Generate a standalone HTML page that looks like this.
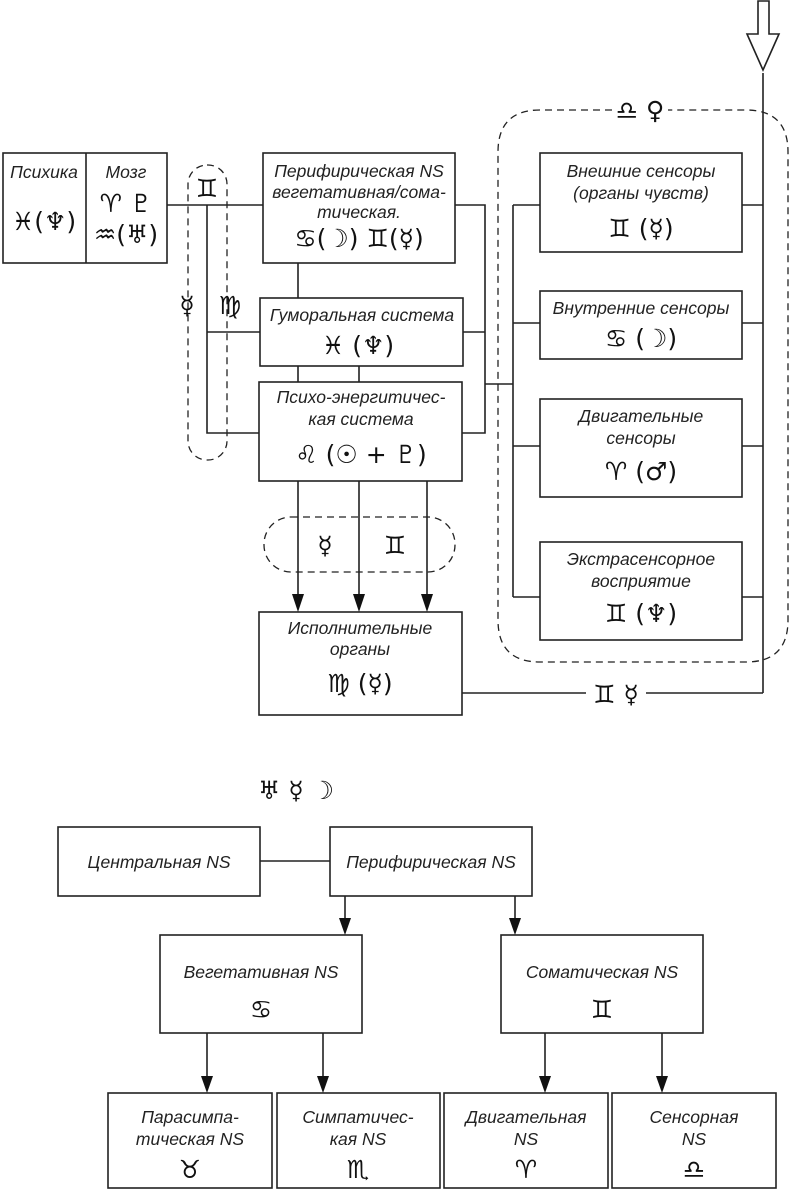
<!DOCTYPE html>
<html><head><meta charset="utf-8"><style>
html,body{margin:0;padding:0;background:#fff}
svg{display:block}
.t{font-family:"Liberation Sans",sans-serif;font-style:italic;font-size:17.5px;fill:#222;text-anchor:middle}
.s{font-family:"DejaVu Sans",sans-serif;font-size:25px;fill:#111;text-anchor:middle}
</style></head><body>
<svg width="790" height="1195" viewBox="0 0 790 1195" xmlns="http://www.w3.org/2000/svg">
<g stroke="#222" stroke-width="1.6" fill="none">
<rect x="3" y="153" width="164" height="110"/>
<line x1="86" y1="153" x2="86" y2="263"/>
<line x1="167" y1="205" x2="263" y2="205"/>
<polyline points="207,205 207,433 259,433"/>
<line x1="207" y1="332" x2="260" y2="332"/>
<rect x="263" y="153" width="192" height="110"/>
<line x1="298" y1="263" x2="298" y2="298"/>
<rect x="260" y="298" width="203" height="68"/>
<line x1="298" y1="366" x2="298" y2="382"/>
<line x1="359" y1="366" x2="359" y2="382"/>
<rect x="259" y="382" width="203" height="99"/>
<polyline points="455,205 485,205 485,433 462,433"/>
<line x1="463" y1="332" x2="485" y2="332"/>
<line x1="485" y1="384" x2="513" y2="384"/>
<line x1="513" y1="205" x2="513" y2="597"/>
<rect x="540" y="153" width="202" height="99"/>
<rect x="540" y="291" width="202" height="68"/>
<rect x="540" y="399" width="202" height="98"/>
<rect x="540" y="542" width="202" height="98"/>
<line x1="513" y1="205" x2="540" y2="205"/><line x1="742" y1="205" x2="763" y2="205"/>
<line x1="513" y1="323" x2="540" y2="323"/><line x1="742" y1="323" x2="763" y2="323"/>
<line x1="513" y1="446" x2="540" y2="446"/><line x1="742" y1="446" x2="763" y2="446"/>
<line x1="513" y1="597" x2="540" y2="597"/><line x1="742" y1="597" x2="763" y2="597"/>
<line x1="763" y1="73" x2="763" y2="693"/>
<path d="M758,1 L769,1 L769,34 L779,34 L763,70 L747,34 L758,34 Z"/>
<line x1="298" y1="481" x2="298" y2="600"/>
<line x1="359" y1="481" x2="359" y2="600"/>
<line x1="427" y1="481" x2="427" y2="600"/>
<rect x="259" y="612" width="203" height="103"/>
<line x1="462" y1="693" x2="586" y2="693"/>
<line x1="646" y1="693" x2="763" y2="693"/>
<g stroke-dasharray="7,5" stroke-width="1.3">
<rect x="188" y="165" width="39" height="295" rx="19"/>
<rect x="264" y="517" width="191" height="55" rx="27"/>
<path d="M612,110 L540,110 Q498,110 498,152 L498,620 Q498,662 540,662 L746,662 Q788,662 788,620 L788,152 Q788,110 746,110 L668,110"/>
</g>
<rect x="58" y="827" width="202" height="69"/>
<rect x="330" y="827" width="202" height="69"/>
<line x1="260" y1="861" x2="330" y2="861"/>
<line x1="345" y1="896" x2="345" y2="925"/>
<line x1="515" y1="896" x2="515" y2="925"/>
<rect x="160" y="935" width="202" height="98"/>
<rect x="501" y="935" width="202" height="98"/>
<line x1="207" y1="1033" x2="207" y2="1080"/>
<line x1="323" y1="1033" x2="323" y2="1080"/>
<line x1="545" y1="1033" x2="545" y2="1080"/>
<line x1="662" y1="1033" x2="662" y2="1080"/>
<rect x="108" y="1093" width="164" height="95"/>
<rect x="277" y="1093" width="163" height="95"/>
<rect x="444" y="1093" width="164" height="95"/>
<rect x="612" y="1093" width="164" height="95"/>
</g>
<g fill="#111">
<polygon points="292,594 304,594 298,612"/>
<polygon points="353,594 365,594 359,612"/>
<polygon points="421,594 433,594 427,612"/>
<polygon points="339,918 351,918 345,935"/>
<polygon points="509,918 521,918 515,935"/>
<polygon points="201,1076 213,1076 207,1093"/>
<polygon points="317,1076 329,1076 323,1093"/>
<polygon points="539,1076 551,1076 545,1093"/>
<polygon points="656,1076 668,1076 662,1093"/>
</g>
<text class="t" x="44" y="178">Психика</text>
<text class="t" x="126" y="178">Мозг</text>
<text class="s" x="44" y="230">♓(♆)</text>
<text class="s" x="126" y="212">♈ ♇</text>
<text class="s" x="126" y="243">♒(♅)</text>
<text class="t" x="359" y="177">Перифирическая NS</text>
<text class="t" x="359" y="198">вегетативная/сома-</text>
<text class="t" x="359" y="218">тическая.</text>
<text class="s" x="359" y="247">♋(☽)  ♊(☿)</text>
<text class="s" x="207" y="197">♊</text>
<text class="s" x="187" y="314">☿</text>
<text class="s" x="230" y="314">♍</text>
<text class="t" x="362" y="321">Гуморальная система</text>
<text class="s" x="358" y="354">♓ (♆)</text>
<text class="t" x="361" y="403">Психо-энергитичес-</text>
<text class="t" x="361" y="425">кая система</text>
<text class="s" x="361" y="463">♌ (☉ + ♇)</text>
<text class="s" x="325" y="554">☿</text>
<text class="s" x="395" y="554">♊</text>
<text class="t" x="360" y="634">Исполнительные</text>
<text class="t" x="360" y="655">органы</text>
<text class="s" x="360" y="692">♍ (☿)</text>
<text class="s" x="616" y="703">♊ ☿</text>
<text class="s" x="640" y="119">♎ ♀</text>
<text class="t" x="641" y="177">Внешние сенсоры</text>
<text class="t" x="641" y="199">(органы чувств)</text>
<text class="s" x="641" y="237">♊ (☿)</text>
<text class="t" x="641" y="314">Внутренние сенсоры</text>
<text class="s" x="641" y="347">♋ (☽)</text>
<text class="t" x="641" y="422">Двигательные</text>
<text class="t" x="641" y="444">сенсоры</text>
<text class="s" x="641" y="480">♈ (♂)</text>
<text class="t" x="641" y="565">Экстрасенсорное</text>
<text class="t" x="641" y="587">восприятие</text>
<text class="s" x="641" y="622">♊ (♆)</text>
<text class="s" x="296" y="799">♅ ☿ ☽</text>
<text class="t" x="159" y="868">Центральная NS</text>
<text class="t" x="431" y="868">Перифирическая NS</text>
<text class="t" x="261" y="978">Вегетативная NS</text>
<text class="s" x="261" y="1018">♋</text>
<text class="t" x="602" y="978">Соматическая NS</text>
<text class="s" x="602" y="1018">♊</text>
<text class="t" x="190" y="1123">Парасимпа-</text>
<text class="t" x="190" y="1145">тическая NS</text>
<text class="s" x="190" y="1178">♉</text>
<text class="t" x="358" y="1123">Симпатичес-</text>
<text class="t" x="358" y="1145">кая NS</text>
<text class="s" x="358" y="1178">♏</text>
<text class="t" x="526" y="1123">Двигательная</text>
<text class="t" x="526" y="1145">NS</text>
<text class="s" x="526" y="1178">♈</text>
<text class="t" x="694" y="1123">Сенсорная</text>
<text class="t" x="694" y="1145">NS</text>
<text class="s" x="694" y="1178">♎</text>
</svg>
</body></html>
